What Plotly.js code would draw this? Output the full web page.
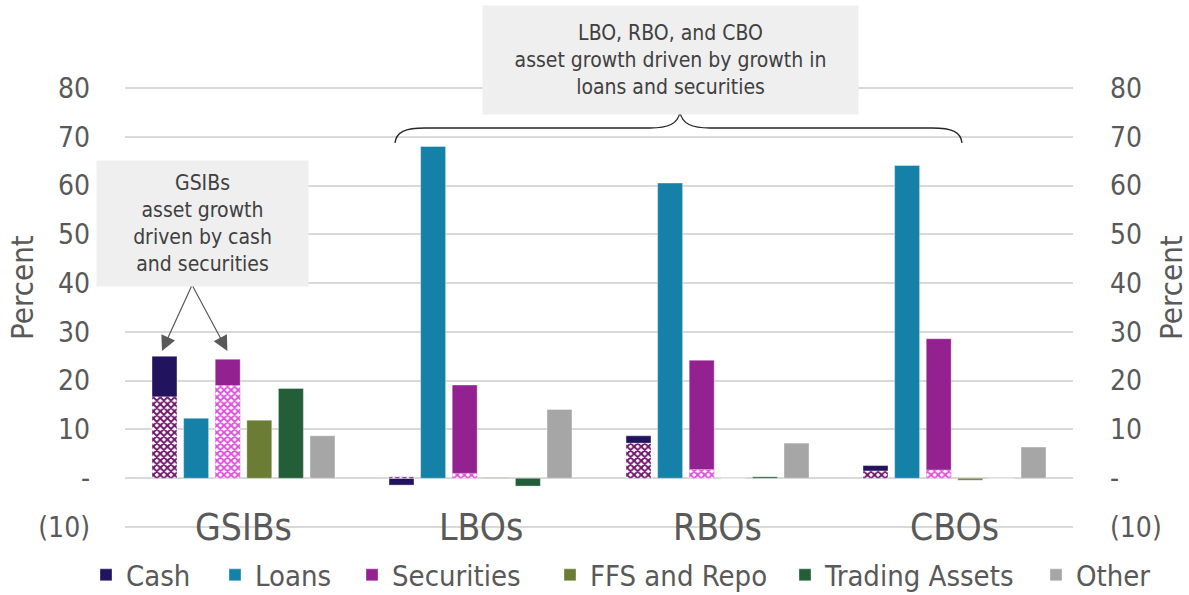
<!DOCTYPE html>
<html>
<head>
<meta charset="utf-8">
<script src="https://cdn.plot.ly/plotly-3.0.1.min.js"></script>
<style>
  html, body { margin: 0; padding: 0; background: #ffffff; }
  #chart { width: 1189px; height: 595px; }
</style>
</head>
<body>
<div id="chart"></div>
<script>
// Asset growth by bank group, percent
const categories = ['GSIBs', 'LBOs', 'RBOs', 'CBOs'];
const cash = [25.0, -1.4, 8.7, 2.6];
const cashShaded = [16.7, 0.3, 7.2, 1.5];
const loans = [12.3, 68.0, 60.5, 64.1];
const securities = [24.4, 19.1, 24.2, 28.6];
const securitiesShaded = [19.0, 1.0, 1.8, 1.7];
const ffsRepo = [11.9, 0.1, 0.0, -0.4];
const tradingAssets = [18.4, -1.6, 0.3, 0.0];
const other = [8.7, 14.1, 7.2, 6.4];

const tickVals = [-10, 0, 10, 20, 30, 40, 50, 60, 70, 80];
const tickText = ['(10)', '-', '10', '20', '30', '40', '50', '60', '70', '80'];

const FONT = "'DejaVu Sans Condensed', 'DejaVu Sans', sans-serif";
const TEXT = '#595959';

const colors = {
  cash: '#22135e',
  loans: '#1580a8',
  securities: '#93218f',
  ffs: '#6b7d35',
  trading: '#225e38',
  other: '#a6a6a6',
  cashShade: '#6e1769',
  secShade: '#e04fda'
};

function solid(name, y, color, group, legendWidth) {
  return {
    type: 'bar', name: name, x: categories, y: y, offsetgroup: group,
    legendwidth: legendWidth,
    marker: { color: color, line: { color: 'rgba(255,255,255,0.35)', width: 1 } },
    hoverinfo: 'name+y'
  };
}
function shaded(name, y, color, group) {
  return {
    type: 'bar', name: name, x: categories, y: y, offsetgroup: group,
    showlegend: false,
    marker: {
      color: '#ffffff',
      line: { color: 'rgba(255,255,255,0.35)', width: 1 },
      pattern: { shape: 'x', fillmode: 'replace', bgcolor: '#ffffff', fgcolor: color, size: 5, solidity: 0.62 }
    },
    hoverinfo: 'name+y'
  };
}

const traces = [
  solid('Cash', cash, colors.cash, 'g1', 84),
  shaded('Cash (shaded)', cashShaded, colors.cashShade, 'g1'),
  solid('Loans', loans, colors.loans, 'g2', 92),
  solid('Securities', securities, colors.securities, 'g3', 153),
  shaded('Securities (shaded)', securitiesShaded, colors.secShade, 'g3'),
  solid('FFS and Repo', ffsRepo, colors.ffs, 'g4', 190),
  solid('Trading Assets', tradingAssets, colors.trading, 'g5', 206),
  solid('Other', other, colors.other, 'g6', 0),
  // carries the right-hand percent axis; draws nothing
  {
    type: 'scatter', mode: 'markers', x: categories, y: other, yaxis: 'y2',
    marker: { opacity: 0 }, showlegend: false, hoverinfo: 'skip'
  }
];

// plot-area geometry, used to place the notes and the brace
// (range padded slightly so the -10 and 80 gridlines are kept)
const Y_RANGE = [-10.4, 80.4];
const M = { l: 125, r: 116, t: 86, b: 66, autoexpand: false };
const W = 1189, H = 595;
const PW = W - M.l - M.r, PH = H - M.t - M.b;
const px2x = px => (px - M.l) / PW;
const py2y = py => (H - M.b - py) / PH;
function P(px, py) {
  return px2x(px).toFixed(4) + ',' + py2y(py).toFixed(4);
}
const bracePath =
  'M' + P(395, 143) +
  ' C' + P(396, 132) + ' ' + P(405, 128) + ' ' + P(425, 128) +
  ' L' + P(650, 128) +
  ' C' + P(668, 128) + ' ' + P(678, 124) + ' ' + P(680, 112) +
  ' C' + P(682, 124) + ' ' + P(692, 128) + ' ' + P(710, 128) +
  ' L' + P(932, 128) +
  ' C' + P(952, 128) + ' ' + P(961, 132) + ' ' + P(962, 143);

const annotations = [];
categories.forEach(c => {
  annotations.push({
    x: c, y: -10, xref: 'x', yref: 'y', text: c, showarrow: false,
    xanchor: 'center', yanchor: 'middle',
    font: { family: FONT, size: 37, color: TEXT }
  });
});

// axis titles on both sides
[22, 1171].forEach(px => {
  annotations.push({
    xref: 'paper', yref: 'paper', x: px2x(px), y: py2y(288),
    xanchor: 'center', yanchor: 'middle', textangle: -90,
    text: 'Percent', showarrow: false,
    font: { family: FONT, size: 31, color: TEXT }
  });
});

annotations.push({
  xref: 'paper', yref: 'paper',
  x: px2x(202.5), y: py2y(223.5),
  xanchor: 'center', yanchor: 'middle',
  width: 209, height: 123, bgcolor: '#efefef',
  text: 'GSIBs<br>asset growth<br>driven by cash<br>and securities',
  showarrow: false, align: 'center',
  font: { family: FONT, size: 21, color: '#404040' }
});
annotations.push({
  xref: 'paper', yref: 'paper',
  x: px2x(670.5), y: py2y(60),
  xanchor: 'center', yanchor: 'middle',
  width: 373, height: 106, bgcolor: '#efefef',
  text: 'LBO, RBO, and CBO<br>asset growth driven by growth in<br>loans and securities',
  showarrow: false, align: 'center',
  font: { family: FONT, size: 21, color: '#404040' }
});

// arrows from the GSIBs note to the cash and securities bars
[-0.344, -0.068].forEach(xt => {
  annotations.push({
    xref: 'x', yref: 'y', x: xt, y: 26.1,
    axref: 'x', ayref: 'y', ax: -0.217, ay: 39.6,
    text: '', showarrow: true, arrowhead: 2, arrowsize: 2.5, arrowwidth: 1.2,
    arrowcolor: '#595959', standoff: 0, startstandoff: 0
  });
});

const yCommon = {
  range: Y_RANGE, tickmode: 'array', tickvals: tickVals, ticktext: tickText,
  tickfont: { family: FONT, size: 28, color: TEXT },
  zeroline: false, showline: false, ticks: '', fixedrange: true, automargin: false
};

const layout = {
  width: W, height: H,
  margin: M,
  paper_bgcolor: '#ffffff', plot_bgcolor: '#ffffff',
  barmode: 'group', bargap: 0.2, bargroupgap: 0.21,
  showlegend: true,
  legend: {
    orientation: 'h', xref: 'paper', yref: 'paper',
    x: px2x(86), xanchor: 'left', y: py2y(575), yanchor: 'middle',
    font: { family: FONT, size: 29, color: TEXT },
    itemclick: false, itemdoubleclick: false, traceorder: 'normal'
  },
  xaxis: {
    type: 'category', range: [-0.5, 3.5], showticklabels: false, showgrid: false,
    zeroline: false, showline: false, ticks: '', fixedrange: true
  },
  yaxis: Object.assign({}, yCommon, {
    showgrid: true, gridcolor: '#d9d9d9', gridwidth: 2,
    ticklabelstandoff: 34
  }),
  yaxis2: Object.assign({}, yCommon, {
    overlaying: 'y', side: 'right', anchor: 'x',
    showgrid: false, ticklabelstandoff: 36
  }),
  shapes: [{
    type: 'path', xref: 'paper', yref: 'paper', path: bracePath,
    line: { color: '#262626', width: 1.3 }, fillcolor: 'rgba(0,0,0,0)', layer: 'above'
  }],
  annotations: annotations
};

Plotly.newPlot('chart', traces, layout, { displayModeBar: false, staticPlot: true });
</script>
</body>
</html>
